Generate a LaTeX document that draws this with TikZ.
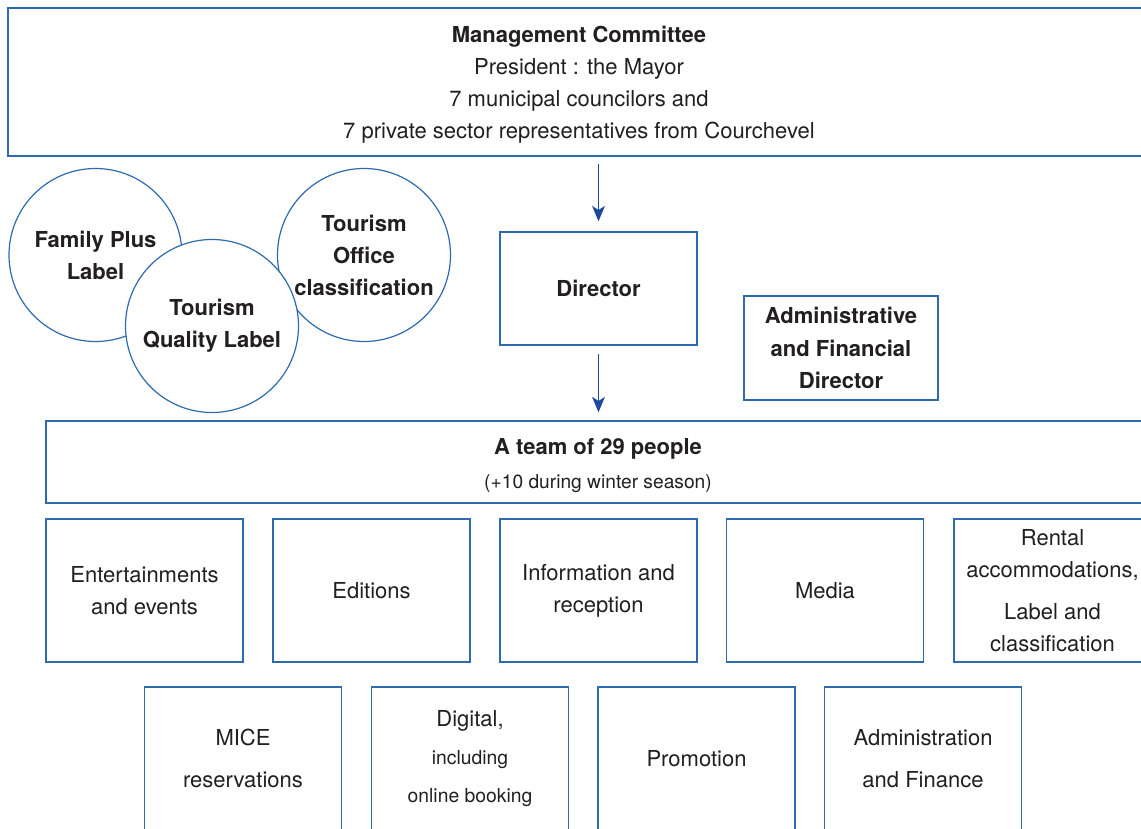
\documentclass[tikz,border=0pt]{standalone}
\usepackage{fontspec}
\setmainfont{TeX Gyre Heros}
\usetikzlibrary{arrows.meta}
\definecolor{lineblue}{RGB}{46,106,176}
\definecolor{arrowblue}{RGB}{30,72,158}
\definecolor{ink}{RGB}{35,31,32}
\begin{document}
\begin{tikzpicture}[x=0.75pt,y=-0.75pt,
  box/.style={draw=lineblue, line width=1pt, fill=white, text=ink, align=center,
    inner sep=0pt, font=\fontsize{16.5}{24}\selectfont},
  unit/.style={box, minimum width=147.75pt, minimum height=107.25pt},
  ring/.style={circle, draw=lineblue, line width=0.9pt, fill=white,
    minimum size=129.75pt, inner sep=0pt},
  ringtext/.style={text=ink, align=center, inner sep=0pt,
    font=\fontsize{16.5}{24}\selectfont\bfseries},
  link/.style={draw=arrowblue, line width=1.4pt,
    -{Stealth[length=11.5pt,width=9.5pt,inset=3pt]}}]
\useasboundingbox (0,0) rectangle (1141,828);
\clip (0,0) rectangle (1141,828);

% governing body
\node[box, minimum width=856.5pt, minimum height=111pt] (top) at (579,82)
  {\rule{0pt}{16pt}\textbf{Management Committee}\\President : the Mayor\\7 municipal councilors and\\
   7 private sector representatives from Courchevel};

% labels and classification
\node[ring] (family) at (95.5,255) {};
\node[ring] (office) at (364,255) {};
\node[ring] (quality) at (212,326) {};
\node[ringtext] (familytext) at (family) {Family Plus\\Label};
\node[ringtext] (officetext) at (office) {Tourism\\Office\\classification};
\node[ringtext] (qualitytext) at (quality) {Tourism\\Quality Label};

% directors
\node[box, font=\fontsize{16.5}{24}\selectfont\bfseries,
  minimum width=147.75pt, minimum height=84.75pt] (dir) at (598.5,288.5) {Director};
\node[box, font=\fontsize{16.5}{24.4}\selectfont\bfseries,
  minimum width=145.5pt, minimum height=78pt] (afd) at (841,348)
  {Administrative\\and Financial\\Director};

% team
\node[box, font=\fontsize{16.5}{25.5}\selectfont,
  minimum width=828pt, minimum height=61.5pt] (team) at (598,462)
  {\rule{0pt}{18pt}\textbf{A team of 29 people}\\{\fontsize{14.4}{25.5}\selectfont(+10 during winter season)}};

\draw[link, shorten <=5.25pt, shorten >=7.5pt] (dir.north |- top.south) -- (dir.north);
\draw[link, shorten <=6pt, shorten >=6pt] (dir.south) -- (dir.south |- team.north);

% departments, first row
\node[unit] (ent) at (144.5,590.5) {Entertainments\\and events};
\node[unit] (edit) at (371.5,590.5) {Editions};
\node[unit] (info) at (598.5,590.5) {Information and\\reception};
\node[unit] (media) at (825,590.5) {Media};
\node[unit] (rental) at (1052.5,590.5) {Rental\\accommodations,\\[7.5pt]Label and\\classification};

% departments, second row
\node[unit, font=\fontsize{16.5}{31.5}\selectfont] (mice) at (243,758.5) {MICE\\reservations};
\node[unit, font=\fontsize{16.5}{28.5}\selectfont] (digital) at (470,758.5)
  {Digital,\\{\fontsize{14.5}{28.5}\selectfont including}\\{\fontsize{14.5}{28.5}\selectfont online booking}};
\node[unit] (promo) at (696.5,758.5) {Promotion};
\node[unit, font=\fontsize{16.5}{31.5}\selectfont] (admin) at (923,758.5) {Administration\\and Finance};
\end{tikzpicture}
\end{document}
